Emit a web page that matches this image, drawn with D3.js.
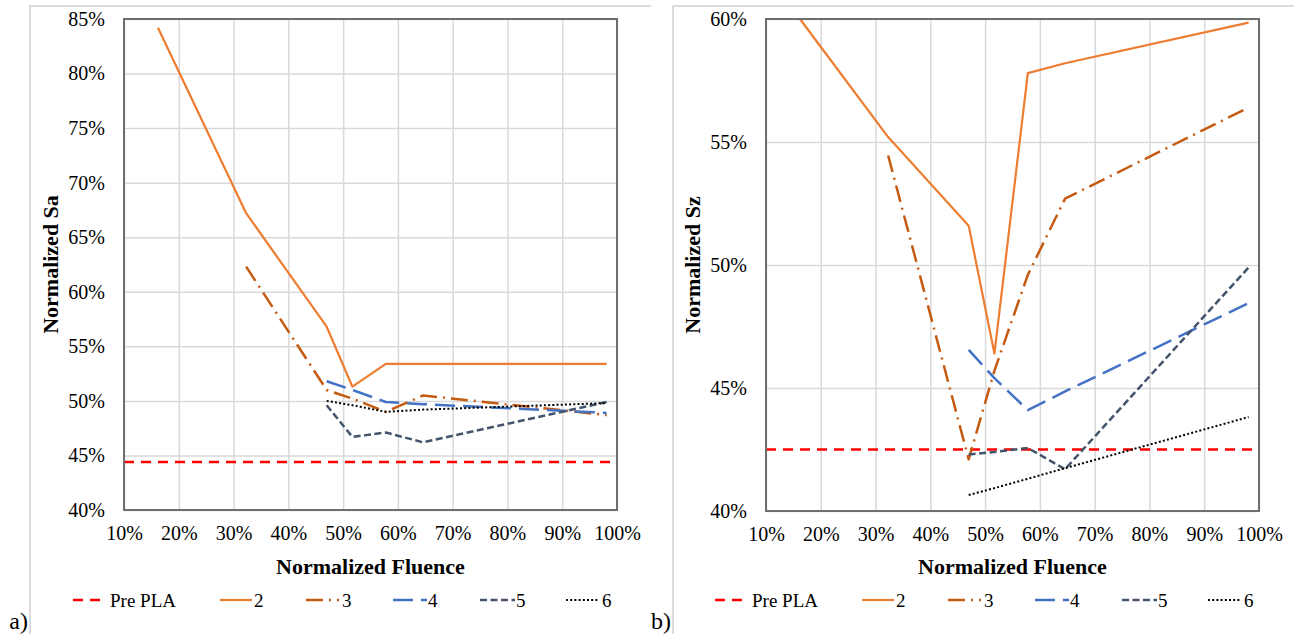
<!DOCTYPE html>
<html><head><meta charset="utf-8">
<script src="https://cdn.jsdelivr.net/npm/d3@7"></script>
<style>
body{margin:0;background:#fff}
svg{display:block}
text{font-family:"Liberation Serif",Tinos,"Times New Roman",Times,"DejaVu Serif","Noto Serif",serif;fill:#000}
</style>
</head><body>
<svg id="c" width="1294" height="634"></svg>
<script>
// ---------- DATA ----------
const fluence = [0.162, 0.323, 0.470, 0.517, 0.578, 0.646, 0.981];
const preFluence = [0.10, 1.00];
const xTicks = [0.1,0.2,0.3,0.4,0.5,0.6,0.7,0.8,0.9,1.0];
const saTicks = [0.40,0.45,0.50,0.55,0.60,0.65,0.70,0.75,0.80,0.85];
const szTicks = [0.40,0.45,0.50,0.55,0.60];
const seriesNames = ["Pre PLA","2","3","4","5","6"];

// Normalized Sa (panel a)
const saPre = [0.444, 0.444];
const sa2 = [0.842, 0.672, 0.568, 0.513, 0.534, 0.534, 0.534];
const sa3 = [null, 0.623, 0.510, 0.502, 0.490, 0.505, 0.487];
const sa4 = [null, null, 0.518, 0.510, 0.499, 0.497, 0.489];
const sa5 = [null, null, 0.496, 0.467, 0.471, 0.462, 0.499];
const sa6 = [null, null, 0.500, 0.496, 0.490, 0.492, 0.498];

// Normalized Sz (panel b)
const szPre = [0.425, 0.425];
const sz2 = [0.600, 0.552, 0.516, 0.464, 0.578, 0.582, 0.5985];
const sz3 = [null, 0.5445, 0.421, 0.457, 0.496, 0.527, 0.564];
const sz4 = [null, null, 0.4655, 0.454, 0.441, 0.4486, 0.4845];
const sz5 = [null, null, 0.423, 0.424, 0.4256, 0.417, 0.499];
const sz6 = [null, null, 0.4065, 0.4093, 0.4131, 0.4174, 0.4382];

// ---------- STYLES ----------
const FONT = '"Liberation Serif",Tinos,"Times New Roman",Times,"DejaVu Serif","Noto Serif",serif';
const styles = [
  {color:"#FF0000", width:2.5, dash:"10,7", legLen:27, legText:37},
  {color:"#ED7D31", width:2.2, dash:null,  legLen:32, legText:34},
  {color:"#C55A11", width:2.5, dash:"17,6,2,6", legLen:33, legText:36},
  {color:"#4472C4", width:2.5, dash:"20,8", legLen:34, legText:35},
  {color:"#44546A", width:2.5, dash:"7,3.5", legLen:35, legText:36},
  {color:"#000000", width:2,   dash:"2,2.2", legLen:32, legText:36}
];
const legendOffsets = [-51, 96, 182, 269, 356, 442];

const svg = d3.select("#c");
const fmt = d3.format(".0%");

function panel(cfg){
  const g = svg.append("g");
  const x = d3.scaleLinear().domain([0.1,1.0]).range([cfg.x0,cfg.x1]);
  const y = d3.scaleLinear().domain([cfg.ticks[0], cfg.ticks[cfg.ticks.length-1]]).range([cfg.y1,cfg.y0]);

  g.append("path")
    .attr("d",`M${cfg.bx},634 V6 H${cfg.bx2}`)
    .attr("fill","none").attr("stroke","#cfcfcf").attr("stroke-width",1.5);

  const ya = g.append("g").attr("transform",`translate(${cfg.x0},0)`)
    .call(d3.axisLeft(y).tickValues(cfg.ticks).tickFormat(fmt)
      .tickSize(-(cfg.x1-cfg.x0)).tickPadding(19));
  ya.select(".domain").remove();
  ya.attr("font-size",null).attr("font-family",null);
  ya.selectAll(".tick line").attr("stroke","#d9d9d9").attr("stroke-width",1.5);
  ya.selectAll(".tick text").attr("font-size",20).style("font-family",FONT).attr("fill","#000");

  const xa = g.append("g").attr("transform",`translate(0,${cfg.y1})`)
    .call(d3.axisBottom(x).tickValues(xTicks).tickFormat(fmt)
      .tickSize(-(cfg.y1-cfg.y0)).tickPadding(16));
  xa.select(".domain").remove();
  xa.attr("font-size",null).attr("font-family",null);
  xa.selectAll(".tick line").attr("stroke","#d9d9d9").attr("stroke-width",1.5);
  xa.selectAll(".tick text").attr("font-size",20).style("font-family",FONT).attr("fill","#000");

  const cid = "clip"+cfg.id;
  svg.append("clipPath").attr("id",cid).append("rect")
    .attr("x",cfg.x0).attr("y",cfg.y0-1).attr("width",cfg.x1-cfg.x0).attr("height",cfg.y1-cfg.y0+2);

  const line = d3.line().defined(d=>d[1]!=null).x(d=>x(d[0])).y(d=>y(d[1]));
  const lg = g.append("g").attr("clip-path",`url(#${cid})`);
  cfg.series.forEach((vals,i)=>{
    const xs = i===0 ? preFluence : fluence;
    const pts = xs.map((f,k)=>[f, vals[k]]);
    const st = styles[i];
    lg.append("path").datum(pts).attr("d",line)
      .attr("fill","none").attr("stroke",st.color).attr("stroke-width",st.width)
      .attr("stroke-dasharray",st.dash).attr("stroke-linejoin","round");
  });

  g.append("rect").attr("x",cfg.x0).attr("y",cfg.y0)
    .attr("width",cfg.x1-cfg.x0).attr("height",cfg.y1-cfg.y0)
    .attr("fill","none").attr("stroke","#6e6e6e").attr("stroke-width",2);

  g.append("text").attr("x",(cfg.x0+cfg.x1)/2).attr("y",566).attr("dy","0.35em")
    .attr("text-anchor","middle").attr("font-weight","bold").attr("font-size",22)
    .style("font-family",FONT).text("Normalized Fluence");
  g.append("text").attr("transform",`translate(${cfg.x0-74},${(cfg.y0+cfg.y1)/2}) rotate(-90)`)
    .attr("dy","0.35em").attr("text-anchor","middle").attr("font-weight","bold").attr("font-size",22)
    .style("font-family",FONT).text(cfg.yTitle);

  const leg = g.append("g");
  seriesNames.forEach((name,i)=>{
    const st = styles[i];
    const lx = cfg.x0 + legendOffsets[i];
    leg.append("line").attr("x1",lx).attr("x2",lx+st.legLen).attr("y1",600).attr("y2",600)
      .attr("stroke",st.color).attr("stroke-width",st.width).attr("stroke-dasharray",st.dash);
    leg.append("text").attr("x",lx+st.legText).attr("y",600).attr("dy","0.35em")
      .attr("font-size",19).style("font-family",FONT).text(name);
  });

  g.append("text").attr("x",cfg.bx-2).attr("y",629).attr("text-anchor","end")
    .attr("font-size",24).style("font-family",FONT).text(cfg.label);
}

panel({id:"a", x0:124, x1:617, y0:19, y1:510, bx:30, bx2:651, ticks:saTicks,
  yTitle:"Normalized Sa", label:"a)", series:[saPre, sa2, sa3, sa4, sa5, sa6]});
panel({id:"b", x0:766, x1:1259, y0:19, y1:511, bx:673, bx2:1294, ticks:szTicks,
  yTitle:"Normalized Sz", label:"b)", series:[szPre, sz2, sz3, sz4, sz5, sz6]});
</script>
</body></html>
